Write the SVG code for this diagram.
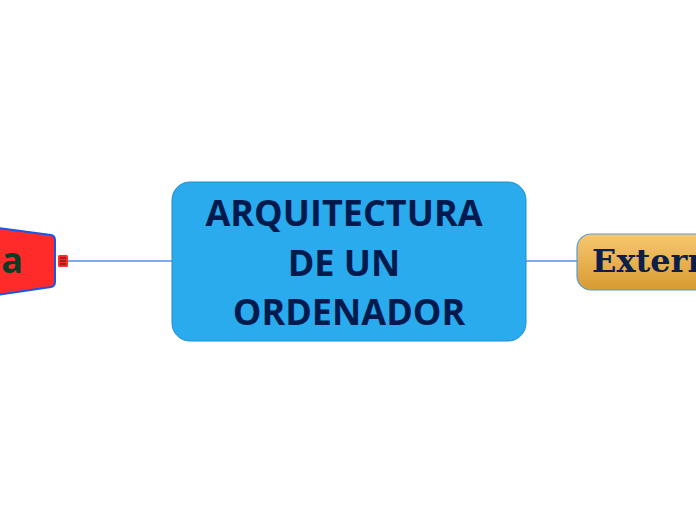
<svg xmlns="http://www.w3.org/2000/svg" width="696" height="520" viewBox="0 0 696 520">
<defs>
<style>
.conn{stroke:#5b8def;stroke-width:1.5;fill:none}
.main{font-family:"Open Sans","Noto Sans",sans-serif;font-weight:bold;font-size:36px;fill:#001a4d;text-anchor:middle}
</style>
<linearGradient id="og" x1="0" y1="0" x2="0" y2="1">
<stop offset="0" stop-color="#f6c870"/>
<stop offset="1" stop-color="#d99a32"/>
</linearGradient>
</defs>
<rect width="696" height="520" fill="#ffffff"/>
<g id="connectors">
<line class="conn" x1="68" y1="261" x2="173" y2="261"/>
<line class="conn" x1="525" y1="261" x2="578" y2="261"/>
</g>
<g id="node-interna">
<path d="M-10,227 L51,235 Q55,236 55,240 L55,282 Q55,286 51,287 L-10,296 Z" fill="#ff2b2b" stroke="#1a56e8" stroke-width="2"/>
<text x="23" y="273" font-family="'Open Sans','Noto Sans',sans-serif" font-weight="bold" font-size="36" fill="#0d3b25" text-anchor="end">Interna</text>
<rect x="58" y="255" width="10" height="12" rx="1.5" fill="#ff2b2b"/>
<g stroke="#5a1a1a" stroke-width="1.2"><line x1="60" y1="258" x2="66" y2="258"/><line x1="60" y1="261" x2="66" y2="261"/><line x1="60" y1="264" x2="66" y2="264"/></g>
</g>
<g id="node-central">
<rect x="172" y="182" width="354" height="159" rx="18" fill="#29abee" stroke="#1e8fd0" stroke-width="1"/>
<text class="main" x="344" y="226">ARQUITECTURA</text>
<text class="main" x="344" y="276">DE UN</text>
<text class="main" x="349" y="325">ORDENADOR</text>
</g>
<g id="node-externa">
<rect x="577" y="234" width="150" height="56" rx="14" fill="url(#og)" stroke="#5a9bd5" stroke-width="1.2"/>
<text x="592" y="272" font-family="'DejaVu Serif',serif" font-weight="bold" font-size="32" fill="#0c1f4a">Externa</text>
</g>
</svg>
